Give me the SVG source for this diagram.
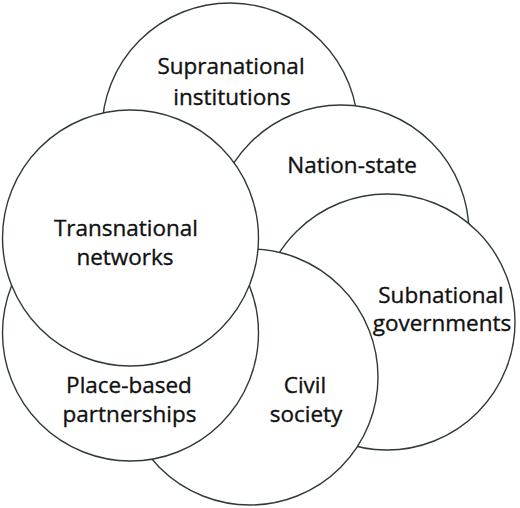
<svg xmlns="http://www.w3.org/2000/svg" width="520" height="508" viewBox="0 0 520 508">
<style>
.c{fill:#fff;stroke:#2f3a36;stroke-width:1.4}
.t{font-family:"Open Sans","Noto Sans",sans-serif;font-size:22.5px;fill:#111;stroke:#111;stroke-width:0.35;text-anchor:middle}
</style>
<rect width="520" height="508" fill="#fff"/>
<g id="supranational"><circle class="c" cx="230" cy="131" r="128"/><text class="t"><tspan x="231" y="74">Supranational</tspan><tspan x="232" y="105">institutions</tspan></text></g>
<g id="nation-state"><circle class="c" cx="341" cy="233" r="128"/><text class="t" x="352" y="173">Nation-state</text></g>
<g id="subnational"><circle class="c" cx="387" cy="322" r="128"/><text class="t"><tspan x="441" y="303">Subnational</tspan><tspan x="442" y="331">governments</tspan></text></g>
<g id="civil-society"><circle class="c" cx="250" cy="377" r="128"/><text class="t"><tspan x="305" y="393">Civil</tspan><tspan x="306" y="422">society</tspan></text></g>
<g id="place-based"><circle class="c" cx="130.5" cy="333" r="128"/><text class="t"><tspan x="129" y="393">Place-based</tspan><tspan x="129.5" y="422">partnerships</tspan></text></g>
<g id="transnational"><circle class="c" cx="130.5" cy="238" r="128"/><text class="t"><tspan x="126" y="236">Transnational</tspan><tspan x="125" y="265">networks</tspan></text></g>
<g id="connectors"></g>
</svg>
